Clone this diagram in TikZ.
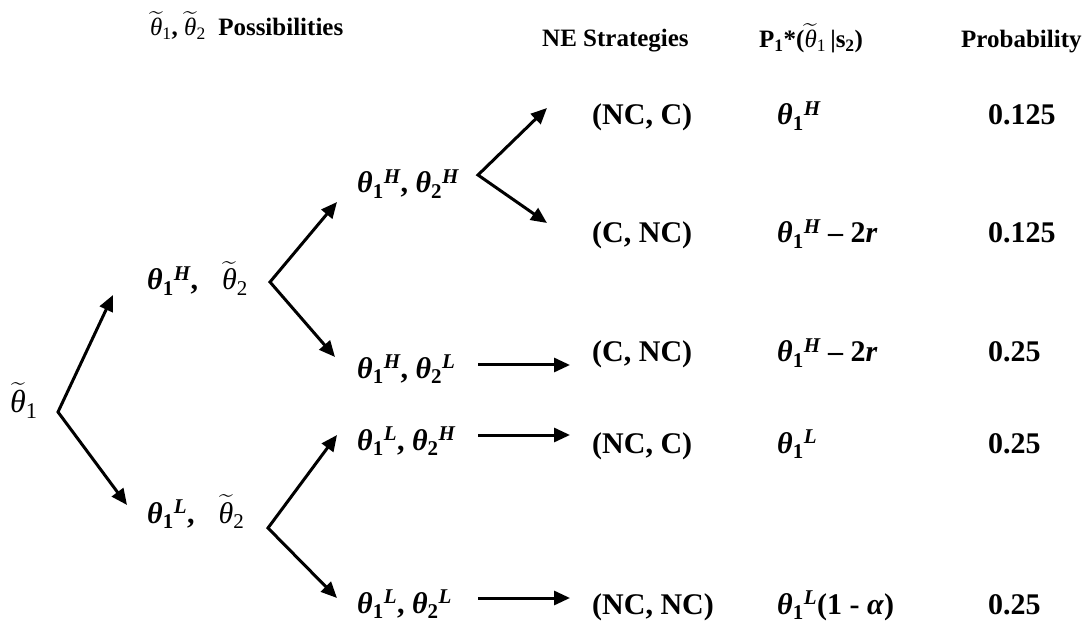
\documentclass[tikz,border=0pt]{standalone}
\usepackage{amsmath}
\usepackage{fontspec}
\setmainfont{Liberation Serif}
\usetikzlibrary{arrows.meta}

\newcommand{\tth}[1]{\ensuremath{\widetilde{\text{\normalfont\itshape θ}}_{\text{\normalfont #1}}}}
\newcommand{\thx}[2]{\ensuremath{\text{\bfseries\itshape θ}_{\text{\bfseries #1}}{}^{\text{\bfseries\itshape #2}}}}

\begin{document}
\begin{tikzpicture}[
      x=1pt, y=-1pt,
      lab/.style={anchor=base west, inner sep=0pt,
        font=\fontsize{30}{36}\selectfont\bfseries},
      head/.style={anchor=base west, inner sep=0pt,
        font=\fontsize{25}{30}\selectfont\bfseries},
      arrow/.style={-{Triangle[length=16pt, width=14pt]}, line width=3pt},
      fork/.style={{Triangle[length=16pt, width=14pt]}-{Triangle[length=16pt, width=14pt]},
        line width=3pt, line join=miter}
    ]
    \useasboundingbox (0,0) rectangle (1090,628);

    \node[head] at (150,36) (hposs) {\tth{1}, \tth{2}\ \ Possibilities};
    \node[head] at (542,47) (hne) {NE Strategies};
    \node[head] at (759,48) (hbel) {P\textsubscript{1}*(\tth{1}\,|s\textsubscript{2})};
    \node[head] at (961,48) (hprob) {Probability};

    \node[lab, font=\fontsize{32}{38}\selectfont] at (10,412) (root) {\tth{1}};
    \node[lab] at (147,290) (hi) {\thx{1}{H},\hspace{0.8em}\tth{2}};
    \node[lab] at (147,523) (lo) {\thx{1}{L},\hspace{0.8em}\tth{2}};

    \node[lab] at (357,193) (hh) {\thx{1}{H}, \thx{2}{H}};
    \node[lab] at (357,378) (hl) {\thx{1}{H}, \thx{2}{L}};
    \node[lab] at (357,450) (lh) {\thx{1}{L}, \thx{2}{H}};
    \node[lab] at (357,613) (ll) {\thx{1}{L}, \thx{2}{L}};

    \node[lab] at (592,125) (neA) {(NC, C)};
    \node[lab] at (592,243) (neB) {(C, NC)};
    \node[lab] at (592,362) (neC) {(C, NC)};
    \node[lab] at (592,453) (neD) {(NC, C)};
    \node[lab] at (592,614) (neE) {(NC, NC)};

    \node[lab] at (777,125) (pA) {\thx{1}{H}};
    \node[lab] at (777,243) (pB) {\thx{1}{H} -- 2\textit{r}};
    \node[lab] at (777,362) (pC) {\thx{1}{H} -- 2\textit{r}};
    \node[lab] at (777,453) (pD) {\thx{1}{L}};
    \node[lab] at (777,614) (pE) {\thx{1}{L}(1 - \textit{α})};

    \node[lab] at (988,125) (prA) {0.125};
    \node[lab] at (988,243) (prB) {0.125};
    \node[lab] at (988,362) (prC) {0.25};
    \node[lab] at (988,453) (prD) {0.25};
    \node[lab] at (988,614) (prE) {0.25};

    \coordinate (v0) at (58,412);
    \coordinate (v0up) at (113,295);
    \coordinate (v0dn) at (127,505);
    \coordinate (v1) at (270,282);
    \coordinate (v1up) at (337,202);
    \coordinate (v1dn) at (335,357);
    \coordinate (v2) at (268,528);
    \coordinate (v2up) at (337,435);
    \coordinate (v2dn) at (337,598);
    \coordinate (v3) at (478,175);
    \coordinate (v3up) at (547,108);
    \coordinate (v3dn) at (547,223);
    \coordinate (hlout) at (478,365);
    \coordinate (hlin) at (570,365);
    \coordinate (lhout) at (478,435);
    \coordinate (lhin) at (570,435);
    \coordinate (llout) at (478,598);
    \coordinate (llin) at (570,598);

    \draw[fork] (v0up) -- (v0) -- (v0dn);
    \draw[fork] (v1up) -- (v1) -- (v1dn);
    \draw[fork] (v2up) -- (v2) -- (v2dn);
    \draw[fork] (v3up) -- (v3) -- (v3dn);
    \draw[arrow] (hlout) -- (hlin);
    \draw[arrow] (lhout) -- (lhin);
    \draw[arrow] (llout) -- (llin);
  \end{tikzpicture}
\end{document}
